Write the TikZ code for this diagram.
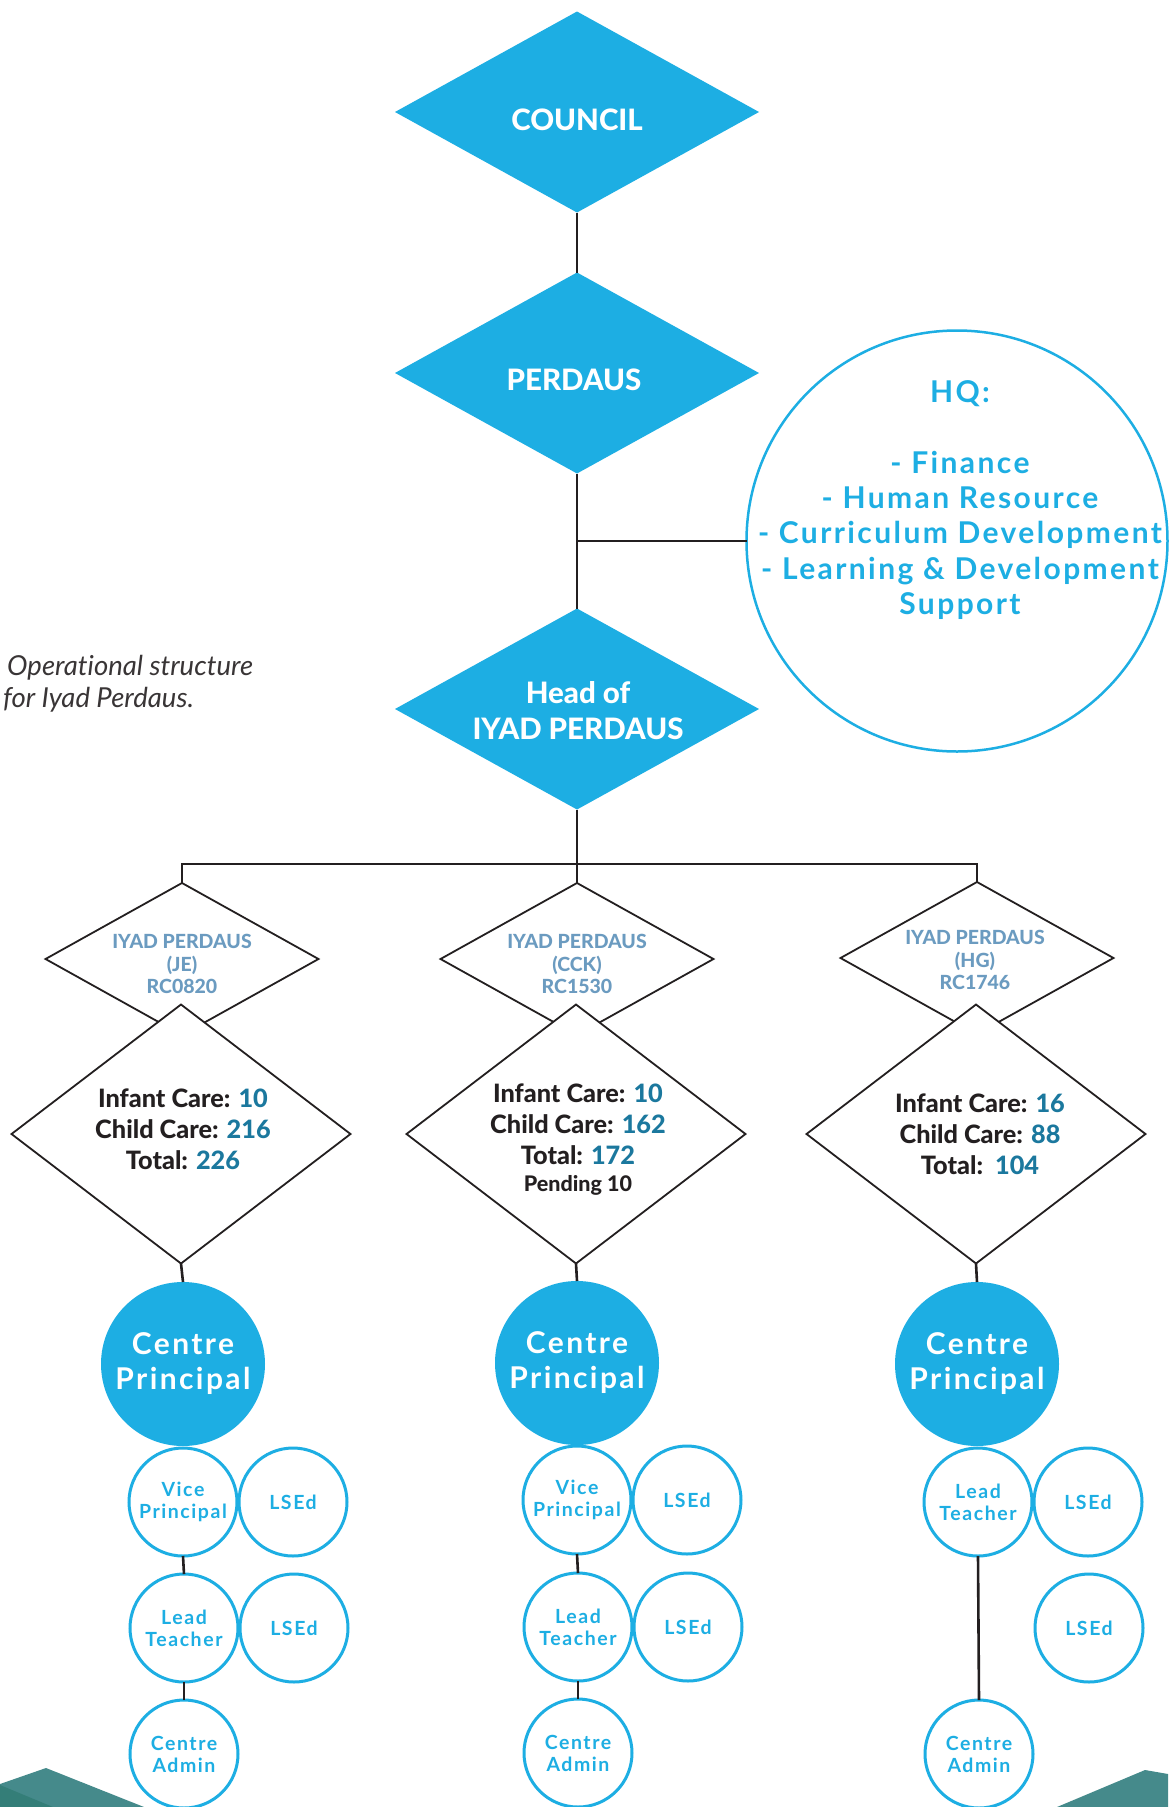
\documentclass[tikz,border=0pt]{standalone}
\usepackage{fontspec}
\setmainfont{Lato}[Ligatures=NoCommon]
\newfontfamily\spacedfont{Lato}[LetterSpace=8,Ligatures=NoCommon]
\newfontfamily\heavyfont{Lato Heavy}[Ligatures=NoCommon]
\usetikzlibrary{shapes.geometric}
\definecolor{cyanb}{RGB}{29,174,227}
\definecolor{numc}{RGB}{27,120,158}
\definecolor{grayb}{RGB}{107,155,192}
\definecolor{inkc}{RGB}{35,31,32}
\definecolor{tealc}{RGB}{69,138,139}
\definecolor{tealdk}{RGB}{52,126,120}
\begin{document}
\begin{tikzpicture}[x=1pt,y=-1pt,
  conn/.style={draw=inkc, line width=2.6pt},
  soliddia/.style={diamond, fill=cyanb, draw=none, inner sep=0pt, outer sep=0pt, minimum width=364pt, minimum height=201pt},
  branchdia/.style={diamond, draw=inkc, line width=1.8pt, inner sep=0pt, outer sep=0pt, minimum width=273pt, minimum height=152pt},
  countdia/.style={diamond, draw=inkc, fill=white, line width=1.8pt, inner sep=0pt, outer sep=0pt, minimum width=339pt, minimum height=259pt},
  whitetxt/.style={text=white, font=\heavyfont\fontsize{29.5}{36}\selectfont, align=center, inner sep=0pt},
  hqtxt/.style={text=cyanb, font=\spacedfont\fontsize{30}{35.3}\selectfont\bfseries, align=center, inner sep=0pt},
  branchtxt/.style={text=grayb, font=\heavyfont\fontsize{19.5}{22.5}\selectfont, align=center, inner sep=0pt},
  counttxt/.style={text=inkc, font=\heavyfont\fontsize{25.3}{31}\selectfont, align=center, inner sep=0pt},
  captxt/.style={text=inkc!90, font=\fontsize{27.5}{32}\selectfont\itshape, inner sep=0pt, anchor=base west},
  princ/.style={circle, fill=cyanb, draw=none, minimum size=164pt, inner sep=0pt, outer sep=0pt, text=white, align=center, font=\spacedfont\fontsize{30}{35}\selectfont\bfseries},
  role/.style={circle, fill=white, draw=cyanb, line width=3pt, minimum size=108pt, inner sep=0pt, outer sep=0pt, text=cyanb, align=center, font=\spacedfont\fontsize{19.5}{22}\selectfont\bfseries},
  hqcircle/.style={circle, draw=cyanb, line width=2.5pt, minimum size=421pt, inner sep=0pt, outer sep=0pt}
]
\useasboundingbox (0,0) rectangle (1168,1807);
\fill[white] (0,0) rectangle (1168,1807);

% top hierarchy
\node[soliddia] (council) at (577,112) {};
\node[whitetxt] (councilT) at (577,120) {COUNCIL};
\node[soliddia] (perdaus) at (577,373) {};
\node[whitetxt] (perdausT) at (574,380) {PERDAUS};
\node[soliddia] (head) at (577,709) {};
\node[whitetxt] (headT) at (578,711) {Head of\\IYAD PERDAUS};

\node[hqcircle] (hq) at (957,541) {};
\node[hqtxt] (hqT) at (960,500) {HQ:\\[35.3pt]- Finance\\- Human Resource\\- Curriculum Development\\- Learning \& Development\\Support};

\draw[conn] (council.south) -- (perdaus.north);
\draw[conn] (perdaus.south) -- (head.north);
\draw[conn] (hq.west) -- (hq.west -| head.north);

% caption
\node[captxt] (cap1) at (7,675) {Operational structure};
\node[captxt] (cap2) at (3,707) {for Iyad Perdaus.};

% branches
\node[branchdia] (b1) at (182,959) {};
\node[branchdia] (b2) at (577,959) {};
\node[branchdia] (b3) at (977,958) {};
\coordinate (bus) at (577,864);
\draw[conn] (head.south) -- (b2.north);
\draw[conn] (b1.north) -- (b1.north |- bus) -- (b3.north |- bus) -- (b3.north);

\node[branchtxt] (b1T) at (182,964) {IYAD PERDAUS\\(JE)\\RC0820};
\node[branchtxt] (b2T) at (577,964) {IYAD PERDAUS\\(CCK)\\RC1530};
\node[branchtxt] (b3T) at (975,960) {IYAD PERDAUS\\(HG)\\RC1746};

\node[countdia] (d1) at (181,1134) {};
\node[countdia] (d2) at (576,1134) {};
\node[countdia] (d3) at (976,1134) {};
\node[counttxt] (d1T) at (183,1129) {Infant Care: \textcolor{numc}{10}\\Child Care: \textcolor{numc}{216}\\Total: \textcolor{numc}{226}};
\node[counttxt] (d2T) at (578,1140) {Infant Care: \textcolor{numc}{10}\\Child Care: \textcolor{numc}{162}\\Total: \textcolor{numc}{172}\\[-4pt]{\fontsize{21.5}{24}\selectfont Pending 10}};
\node[counttxt] (d3T) at (980,1134) {Infant Care: \textcolor{numc}{16}\\Child Care: \textcolor{numc}{88}\\Total:\ \ \textcolor{numc}{104}};

% principals
\node[princ] (cp1) at (183,1364) {Centre\\Principal};
\node[princ] (cp2) at (577,1363) {Centre\\Principal};
\node[princ] (cp3) at (977,1364) {Centre\\Principal};
\draw[conn] (d1.south) -- (cp1.north);
\draw[conn] (d2.south) -- (cp2.north);
\draw[conn] (d3.south) -- (cp3.north);

% column 1
\node[role] (vp1) at (183,1502) {Vice\\Principal};
\node[role] (ls11) at (293,1502) {LSEd};
\node[role] (lt1) at (184,1628) {Lead\\Teacher};
\node[role] (ls12) at (294,1628) {LSEd};
\node[role] (ca1) at (184,1754) {Centre\\Admin};
\draw[conn] (vp1.south) -- (lt1.north);
\draw[conn] (lt1.south) -- (ca1.north);

% column 2
\node[role] (vp2) at (577,1500) {Vice\\Principal};
\node[role] (ls21) at (687,1500) {LSEd};
\node[role] (lt2) at (578,1627) {Lead\\Teacher};
\node[role] (ls22) at (688,1627) {LSEd};
\node[role] (ca2) at (578,1753) {Centre\\Admin};
\draw[conn] (vp2.south) -- (lt2.north);
\draw[conn] (lt2.south) -- (ca2.north);

% column 3
\node[role] (lt3) at (978,1502) {Lead\\Teacher};
\node[role] (ls31) at (1088,1502) {LSEd};
\node[role] (ls32) at (1089,1628) {LSEd};
\node[role] (ca3) at (979,1754) {Centre\\Admin};
\draw[conn] (lt3.south) -- (ca3.north);

% bottom decorations
\fill[tealc] (0,1784) -- (46,1768) -- (144,1807) -- (0,1807) -- cycle;
\fill[tealdk] (0,1785) -- (53,1807) -- (0,1807) -- cycle;
\fill[tealc] (1057,1807) -- (1145,1770) -- (1168,1774) -- (1168,1807) -- cycle;
\end{tikzpicture}
\end{document}
